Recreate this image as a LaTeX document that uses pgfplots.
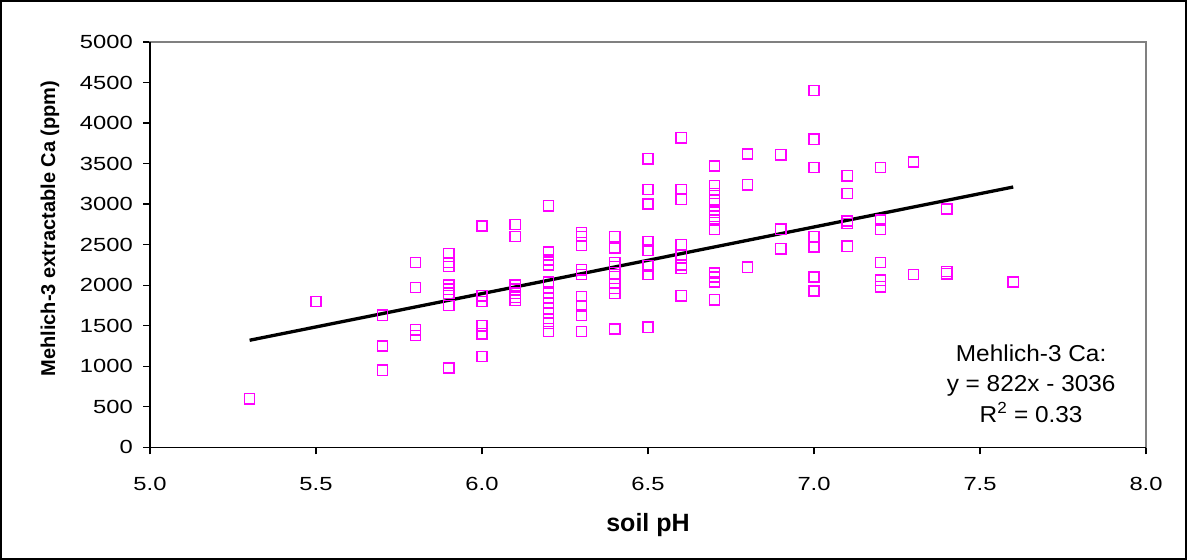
\documentclass[border=0pt]{standalone}
\usepackage{pgfplots}
\pgfplotsset{compat=1.18}
\usepackage{fontspec}
\setmainfont{Liberation Sans}
\newfontfamily\tickfont{Liberation Sans}[FakeStretch=1.25]
\newfontfamily\notefont{Liberation Sans}[FakeStretch=1.06]
\definecolor{mag}{RGB}{255,0,255}
\definecolor{framegray}{RGB}{128,128,128}
\pgfplotstableread{
x y
5.3 600
5.5 1800
5.7 1630
5.7 1250
5.7 950
5.8 2280
5.8 1970
5.8 1450
5.8 1380
5.9 2390
5.9 2280
5.9 2230
5.9 2000
5.9 1950
5.9 1900
5.9 1750
5.9 980
6.0 2730
6.0 1870
6.0 1800
6.0 1500
6.0 1400
6.0 1120
6.1 2750
6.1 2600
6.1 2000
6.1 1950
6.1 1900
6.1 1850
6.1 1810
6.2 2980
6.2 2410
6.2 2310
6.2 2250
6.2 2040
6.2 1900
6.2 1840
6.2 1780
6.2 1710
6.2 1650
6.2 1590
6.2 1530
6.2 1430
6.3 2650
6.3 2600
6.3 2490
6.3 2190
6.3 2130
6.3 1860
6.3 1740
6.3 1630
6.3 1430
6.4 2600
6.4 2460
6.4 2280
6.4 2230
6.4 2130
6.4 2020
6.4 1960
6.4 1900
6.4 1460
6.5 3560
6.5 3180
6.5 3000
6.5 2540
6.5 2430
6.5 2240
6.5 2130
6.5 1480
6.6 3820
6.6 3180
6.6 3060
6.6 2500
6.6 2370
6.6 2250
6.6 2210
6.6 1870
6.7 3470
6.7 3230
6.7 3130
6.7 3050
6.7 2900
6.7 2850
6.7 2800
6.7 2690
6.7 2150
6.7 2100
6.7 2040
6.7 1820
6.8 3620
6.8 3240
6.8 2220
6.9 3610
6.9 2690
6.9 2450
7.0 4400
7.0 3800
7.0 3450
7.0 2600
7.0 2470
7.0 2100
7.0 1930
7.1 3350
7.1 3130
7.1 2790
7.1 2760
7.1 2480
7.2 3450
7.2 2800
7.2 2690
7.2 2280
7.2 2060
7.2 1980
7.3 3520
7.3 2130
7.4 2940
7.4 2170
7.4 2140
7.6 2040
}\cadata
\begin{document}
\begin{tikzpicture}
\useasboundingbox (0,0) rectangle (1187bp,560bp);
\begin{axis}[
  name=ax,
  at={(150bp,112.7bp)}, anchor=south west,
  scale only axis, width=996bp, height=405.3bp,
  xmin=5, xmax=8, ymin=0, ymax=5000,
  xtick distance=0.5, ytick distance=500,
  clip=false,
  tick align=outside, tick pos=left,
  major tick length=7bp,
  axis line style={draw=framegray, line width=1.2bp},
  tick style={black, line width=1.3bp},
  /pgf/number format/assume math mode=true,
  /pgf/number format/1000 sep={},
  x tick label style={font=\tickfont\fontsize{19bp}{22bp}\selectfont, anchor=north, inner sep=0pt, yshift=-23bp,
     /pgf/number format/.cd, fixed, fixed zerofill, precision=1, /tikz/.cd},
  y tick label style={font=\tickfont\fontsize{19bp}{22bp}\selectfont, anchor=east, inner sep=0pt, xshift=-10bp},
  xlabel={soil pH},
  xlabel style={font=\bfseries\fontsize{25bp}{28bp}\selectfont, at={(axis description cs:0.5,-0.208)}, anchor=base},
  ylabel={Mehlich-3 extractable Ca (ppm)},
  ylabel style={font=\bfseries\fontsize{20bp}{24bp}\selectfont, at={(axis description cs:-0.1004,0.54)}, anchor=center},
]
\addplot[only marks, mark=square, mark size=5.1bp, mag, mark options={line width=1.5bp}] table[x=x,y=y] {\cadata};
\addplot[black, line width=3.3bp] coordinates {(5.3,1320.6) (7.6,3211.2)};
\node[font=\notefont\fontsize{23bp}{27bp}\selectfont, anchor=base] at (axis cs:7.654,1056) {Mehlich-3 Ca:};
\node[font=\notefont\fontsize{23bp}{27bp}\selectfont, anchor=base] at (axis cs:7.654,690) {y = 822x - 3036};
\node[font=\notefont\fontsize{23bp}{27bp}\selectfont, anchor=base] at (axis cs:7.654,300) {R\textsuperscript{2} = 0.33};
\end{axis}
\draw[black, line width=1.4bp] (ax.north west) -- (ax.south west) -- (ax.south east);
\draw[black, line width=2bp] (1bp,1bp) rectangle (1186bp,559bp);
\end{tikzpicture}
\end{document}
